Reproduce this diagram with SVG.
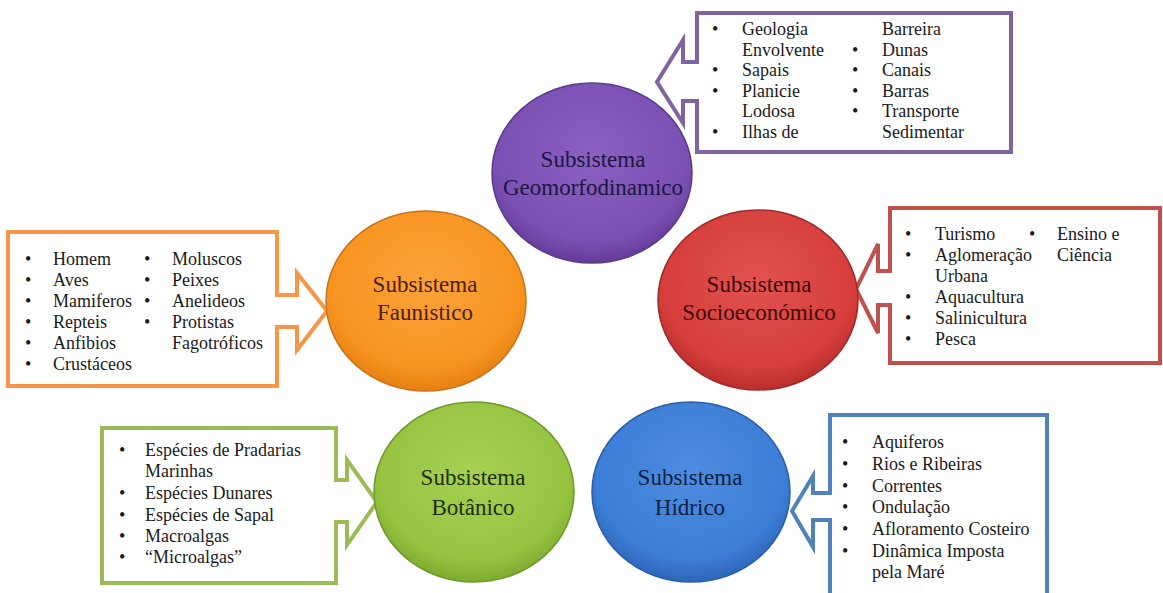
<svg xmlns="http://www.w3.org/2000/svg" width="1163" height="593" viewBox="0 0 1163 593">
<defs>
<radialGradient id="gP" cx="0.5" cy="0.4" r="0.6"><stop offset="0" stop-color="#8a60c2"/><stop offset="0.8" stop-color="#7a50b2"/><stop offset="1" stop-color="#643b9a"/></radialGradient>
<radialGradient id="gO" cx="0.5" cy="0.4" r="0.6"><stop offset="0" stop-color="#fba23a"/><stop offset="0.8" stop-color="#f7941e"/><stop offset="1" stop-color="#e57f12"/></radialGradient>
<radialGradient id="gR" cx="0.5" cy="0.4" r="0.6"><stop offset="0" stop-color="#e2524f"/><stop offset="0.8" stop-color="#d63e3b"/><stop offset="1" stop-color="#b92e2c"/></radialGradient>
<radialGradient id="gG" cx="0.5" cy="0.4" r="0.6"><stop offset="0" stop-color="#a6d154"/><stop offset="0.8" stop-color="#95c340"/><stop offset="1" stop-color="#7eaa30"/></radialGradient>
<radialGradient id="gB" cx="0.5" cy="0.4" r="0.6"><stop offset="0" stop-color="#4d8ee2"/><stop offset="0.8" stop-color="#3c7dd6"/><stop offset="1" stop-color="#2d66b8"/></radialGradient>
<style>
.box{fill:#ffffff;stroke-width:4;stroke-linejoin:miter}
.ct{font-family:'Liberation Serif','Times New Roman',serif;font-size:23px;text-anchor:middle}
.bt{font-family:'Liberation Serif','Times New Roman',serif;font-size:18px;fill:#1a1a1a}
.circ{stroke-width:1.5}
</style>
</defs>
<rect width="1163" height="593" fill="#ffffff"/>

<g id="callout-geomorfodinamico">
<path class="box" stroke="#8064a2" d="M697,13 H1011 V152 H697 V101 H683 V123 L657,82 L683,40 V62 H697 Z"/>
<text class="bt"><tspan x="712" y="35">•</tspan><tspan x="742" y="35">Geologia</tspan><tspan x="742" y="56">Envolvente</tspan><tspan x="712" y="76">•</tspan><tspan x="742" y="76">Sapais</tspan><tspan x="712" y="97">•</tspan><tspan x="742" y="97">Planicie</tspan><tspan x="742" y="117">Lodosa</tspan><tspan x="712" y="138">•</tspan><tspan x="742" y="138">Ilhas de</tspan></text>
<text class="bt"><tspan x="882" y="35">Barreira</tspan><tspan x="852" y="56">•</tspan><tspan x="882" y="56">Dunas</tspan><tspan x="852" y="76">•</tspan><tspan x="882" y="76">Canais</tspan><tspan x="852" y="97">•</tspan><tspan x="882" y="97">Barras</tspan><tspan x="852" y="117">•</tspan><tspan x="882" y="117">Transporte</tspan><tspan x="882" y="138">Sedimentar</tspan></text>
</g>

<g id="callout-faunistico">
<path class="box" stroke="#f79646" d="M8,232 H277 V295 H297 V273 L327,311 L297,350 V327 H277 V386 H8 Z"/>
<text class="bt"><tspan x="25" y="265">•</tspan><tspan x="53" y="265">Homem</tspan><tspan x="25" y="286">•</tspan><tspan x="53" y="286">Aves</tspan><tspan x="25" y="307">•</tspan><tspan x="53" y="307">Mamiferos</tspan><tspan x="25" y="328">•</tspan><tspan x="53" y="328">Repteis</tspan><tspan x="25" y="349">•</tspan><tspan x="53" y="349">Anfibios</tspan><tspan x="25" y="370">•</tspan><tspan x="53" y="370">Crustáceos</tspan></text>
<text class="bt"><tspan x="144" y="265">•</tspan><tspan x="172" y="265">Moluscos</tspan><tspan x="144" y="286">•</tspan><tspan x="172" y="286">Peixes</tspan><tspan x="144" y="307">•</tspan><tspan x="172" y="307">Anelideos</tspan><tspan x="144" y="328">•</tspan><tspan x="172" y="328">Protistas</tspan><tspan x="172" y="349">Fagotróficos</tspan></text>
</g>

<g id="callout-socioeconomico">
<path class="box" stroke="#c0504d" d="M890,208 H1160 V363 H890 V305 H878 V333 L856,289 L878,244 V271 H890 Z"/>
<text class="bt"><tspan x="905" y="240">•</tspan><tspan x="935" y="240">Turismo</tspan><tspan x="905" y="261">•</tspan><tspan x="935" y="261">Aglomeração</tspan><tspan x="935" y="282">Urbana</tspan><tspan x="905" y="303">•</tspan><tspan x="935" y="303">Aquacultura</tspan><tspan x="905" y="324">•</tspan><tspan x="935" y="324">Salinicultura</tspan><tspan x="905" y="345">•</tspan><tspan x="935" y="345">Pesca</tspan></text>
<text class="bt"><tspan x="1029" y="240">•</tspan><tspan x="1057" y="240">Ensino e</tspan><tspan x="1057" y="261">Ciência</tspan></text>
</g>

<g id="callout-botanico">
<path class="box" stroke="#9bbb59" d="M102,428 H336 V480 H347 V460 L377,502 L347,545 V522 H336 V583 H102 Z"/>
<text class="bt"><tspan x="119" y="456">•</tspan><tspan x="145" y="456">Espécies de Pradarias</tspan><tspan x="145" y="477">Marinhas</tspan><tspan x="119" y="499">•</tspan><tspan x="145" y="499">Espécies Dunares</tspan><tspan x="119" y="521">•</tspan><tspan x="145" y="521">Espécies de Sapal</tspan><tspan x="119" y="542">•</tspan><tspan x="145" y="542">Macroalgas</tspan><tspan x="119" y="563">•</tspan><tspan x="145" y="563">“Microalgas”</tspan></text>
</g>

<g id="callout-hidrico">
<path class="box" stroke="#4f81bd" d="M830,415 H1047 V600 H830 V520 H813 V547 L792,511 L813,476 V493 H830 Z"/>
<text class="bt"><tspan x="842" y="448">•</tspan><tspan x="872" y="448">Aquiferos</tspan><tspan x="842" y="470">•</tspan><tspan x="872" y="470">Rios e Ribeiras</tspan><tspan x="842" y="492">•</tspan><tspan x="872" y="492">Correntes</tspan><tspan x="842" y="513">•</tspan><tspan x="872" y="513">Ondulação</tspan><tspan x="842" y="535">•</tspan><tspan x="872" y="535">Afloramento Costeiro</tspan><tspan x="842" y="557">•</tspan><tspan x="872" y="557">Dinâmica Imposta</tspan><tspan x="872" y="578">pela Maré</tspan></text>
</g>

<g id="node-geomorfodinamico">
<ellipse class="circ" cx="592" cy="173" rx="100" ry="90" fill="url(#gP)" stroke="#5b3a8a"/>
<text class="ct" fill="#1e1640"><tspan x="593" y="167">Subsistema</tspan><tspan x="593" y="195">Geomorfodinamico</tspan></text>
</g>

<g id="node-faunistico">
<ellipse class="circ" cx="426" cy="301" rx="100" ry="90" fill="url(#gO)" stroke="#c8741a"/>
<text class="ct" fill="#4a2008"><tspan x="425" y="292">Subsistema</tspan><tspan x="425" y="320">Faunistico</tspan></text>
</g>

<g id="node-socioeconomico">
<ellipse class="circ" cx="758" cy="300" rx="100" ry="90" fill="url(#gR)" stroke="#9e2a28"/>
<text class="ct" fill="#3d0b0b"><tspan x="759" y="292">Subsistema</tspan><tspan x="759" y="320">Socioeconómico</tspan></text>
</g>

<g id="node-botanico">
<ellipse class="circ" cx="474" cy="492" rx="100" ry="90" fill="url(#gG)" stroke="#6f9a2a"/>
<text class="ct" fill="#1f2f0b"><tspan x="473" y="485">Subsistema</tspan><tspan x="473" y="515">Botânico</tspan></text>
</g>

<g id="node-hidrico">
<ellipse class="circ" cx="691" cy="492" rx="99" ry="90" fill="url(#gB)" stroke="#2a5ea8"/>
<text class="ct" fill="#0d1f45"><tspan x="690" y="485">Subsistema</tspan><tspan x="690" y="515">Hídrico</tspan></text>
</g>
</svg>
